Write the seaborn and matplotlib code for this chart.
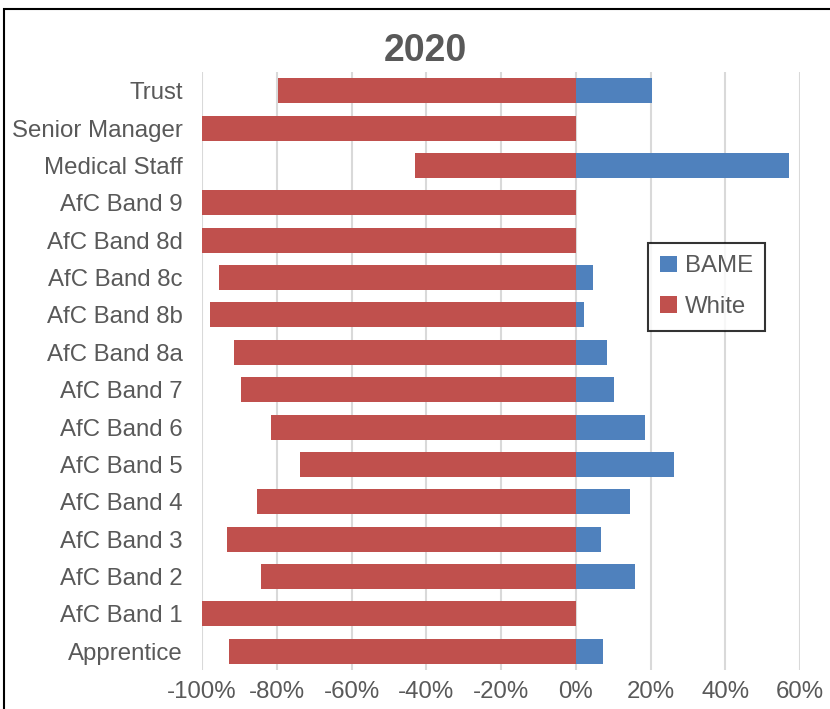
import pandas as pd
import seaborn as sns
import matplotlib.pyplot as plt
import matplotlib.patches as patches
from matplotlib.ticker import FuncFormatter

categories = ['Trust', 'Senior Manager', 'Medical Staff', 'AfC Band 9', 'AfC Band 8d',
              'AfC Band 8c', 'AfC Band 8b', 'AfC Band 8a', 'AfC Band 7', 'AfC Band 6',
              'AfC Band 5', 'AfC Band 4', 'AfC Band 3', 'AfC Band 2', 'AfC Band 1',
              'Apprentice']
bame = [20.3, 0, 57.0, 0, 0, 4.5, 2.1, 8.3, 10.2, 18.4, 26.2, 14.4, 6.7, 15.8, 0, 7.2]
white = [-79.7, -100, -43.0, -100, -100, -95.5, -97.9, -91.4, -89.6, -81.6, -73.8,
         -85.3, -93.3, -84.2, -100, -92.8]
xticks = [-100, -80, -60, -40, -20, 0, 20, 40, 60]

text_col = '#595959'
blue = '#4F81BD'
red = '#C0504D'

df = pd.DataFrame({
    'category': categories * 2,
    'group': ['BAME'] * len(categories) + ['White'] * len(categories),
    'value': bame + white,
})

sns.set_style('white')
plt.rcParams['font.family'] = ['Liberation Sans', 'DejaVu Sans']
plt.rcParams['axes.unicode_minus'] = False

fig = plt.figure(figsize=(8.3, 7.09), dpi=100)
ax = fig.add_axes([202/830, 1 - 670/709, (800 - 202)/830, (670 - 72)/709])

sns.barplot(data=df, y='category', x='value', hue='group', hue_order=['BAME', 'White'],
            order=categories, palette={'BAME': blue, 'White': red}, dodge=False,
            orient='h', width=0.67, saturation=1, linewidth=0, ax=ax, zorder=3)

ax.set_xlim(-100, 60)
ax.set_ylim(15.5, -0.5)
ax.set_xticks(xticks)
ax.xaxis.set_major_formatter(FuncFormatter(lambda v, p: f'{v:.0f}%'))
ax.grid(axis='x', color='#D9D9D9', lw=1.5, zorder=0)
ax.set_axisbelow(True)
for s in ax.spines.values():
    s.set_visible(False)
ax.tick_params(axis='both', length=0, labelsize=17.3, colors=text_col)
ax.tick_params(axis='y', pad=14)
ax.tick_params(axis='x', pad=8)
ax.set_xlabel('')
ax.set_ylabel('')

fig.text(425/830, 1 - 51/709, '2020', fontsize=27, fontweight='bold', color=text_col,
         ha='center', va='center')

leg = ax.legend(loc='upper left', bbox_to_anchor=((648 - 202)/598, 1 - (243 - 72)/598),
                frameon=True, fancybox=False, edgecolor='black', fontsize=17.3,
                handlelength=0.7, handleheight=0.7, handletextpad=0.3,
                labelspacing=0.78, borderpad=0.52, borderaxespad=0)
leg.get_frame().set_linewidth(1.5)
for t in leg.get_texts():
    t.set_color(text_col)

fig.add_artist(patches.Rectangle((4/830, -0.1), 1.2, 1.1 - 9/709, transform=fig.transFigure,
                                 fill=False, edgecolor='black', lw=1.5, clip_on=False))

fig.savefig('out.png', dpi=100)
